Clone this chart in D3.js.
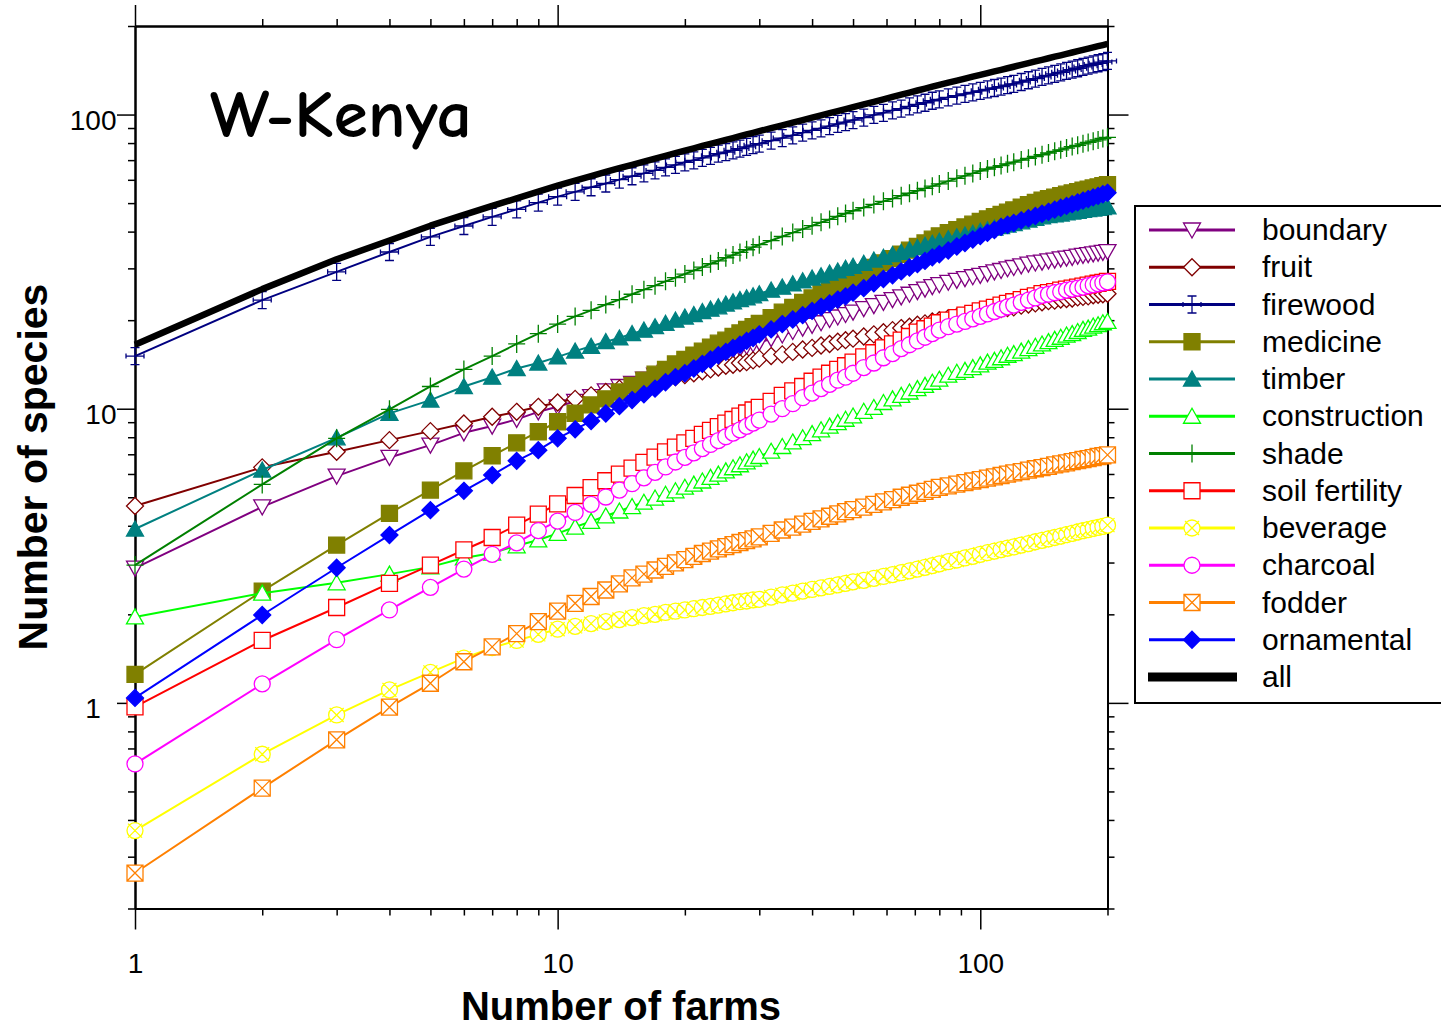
<!DOCTYPE html>
<html>
<head>
<meta charset="utf-8">
<script src="https://cdn.jsdelivr.net/npm/d3@7"></script>
<style>
  body { margin: 0; background: #fff; }
  svg { display: block; }
</style>
</head>
<body>
<svg id="chart" width="1441" height="1030"></svg>
<script>
// Species accumulation with number of farms sampled (W-Kenya), per use category.
const farms = [1,2,3,4,5,6,7,8,9,10,11,12,13,14,15,16,17,18,19,20,21,22,23,24,25,26,27,28,29,30,
  32,34,36,38,40,42,44,46,48,50,53,56,59,62,65,68,71,74,77,80,
  84,88,92,96,100,104,108,112,116,120,125,130,135,140,145,150,155,160,165,170,175,180,185,190,195,200];

const boundary = [2.87,4.64,5.90,6.83,7.52,8.28,8.73,9.20,9.76,10.15,
  10.6,11.0,11.5,11.9,12.2,12.6,13.0,13.3,13.6,14.0,
  14.3,14.6,14.9,15.2,15.5,15.8,16.0,16.3,16.6,16.8,
  17.3,17.8,18.3,18.8,19.2,19.6,20.1,20.5,20.9,21.3,
  21.9,22.4,23.0,23.5,24.0,24.5,25.0,25.5,26.0,26.4,
  26.9,27.3,27.7,28.1,28.4,28.8,29.2,29.5,29.9,30.2,
  30.6,31.0,31.3,31.5,31.8,32.0,32.3,32.5,32.7,33.0,33.2,33.4,33.6,33.8,34.0,34.2];

const fruit = [4.67,6.32,7.14,7.82,8.39,8.91,9.39,9.76,10.15,10.5,
  10.8,11.1,11.4,11.7,11.9,12.1,12.4,12.6,12.8,13.0,
  13.2,13.4,13.6,13.8,14.0,14.1,14.3,14.4,14.6,14.8,
  15.1,15.3,15.6,15.9,16.1,16.4,16.6,16.9,17.1,17.3,
  17.6,17.9,18.2,18.5,18.8,19.0,19.3,19.5,19.8,20.0,
  20.3,20.5,20.7,20.9,21.2,21.4,21.6,21.8,22.0,22.1,
  22.4,22.6,22.8,23.0,23.2,23.3,23.5,23.6,23.7,23.9,24.0,24.1,24.3,24.4,24.5,24.6];

const firewood = [15.1,23.4,29.2,34.1,38.4,41.8,44.9,47.6,50.2,52.6,
  54.6,56.6,58.3,60.1,61.7,63.1,64.6,66.1,67.4,68.8,
  69.9,71.2,72.4,73.6,74.5,75.6,76.6,77.7,78.7,79.7,
  81.5,83.2,85.0,86.8,88.4,89.8,91.4,92.9,94.3,95.8,
  97.6,99.7,101.4,103.3,104.8,106.6,108.3,109.7,111.4,112.7,
  114.4,116.0,117.5,119.0,120.4,121.8,123.1,124.5,126.0,127.2,
  129.0,130.8,132.5,134.2,135.9,137.6,139.2,140.7,142.2,143.7,145.2,146.6,148.0,149.4,150.8,152.2];

const medicine = [1.25,2.40,3.44,4.41,5.29,6.15,6.92,7.66,8.35,9.03,
  9.65,10.3,10.8,11.4,12.0,12.5,13.1,13.6,14.2,14.7,
  15.2,15.7,16.2,16.7,17.1,17.6,18.1,18.6,19.0,19.5,
  20.4,21.3,22.1,23.0,23.8,24.7,25.5,26.3,27.1,27.9,
  29.0,30.2,31.3,32.4,33.5,34.6,35.6,36.6,37.7,38.7,
  39.7,40.6,41.5,42.4,43.3,44.2,45.0,45.8,46.6,47.4,
  48.4,49.4,50.3,51.2,51.8,52.4,53.0,53.6,54.2,54.7,55.3,55.8,56.3,56.8,57.3,57.8];

const timber = [3.90,6.19,7.96,9.64,10.7,11.9,12.8,13.7,14.3,15.0,
  15.7,16.3,16.9,17.4,18.0,18.5,19.0,19.5,20.0,20.5,
  20.9,21.4,21.8,22.2,22.7,23.1,23.5,23.8,24.2,24.6,
  25.3,25.9,26.6,27.2,27.8,28.3,28.9,29.4,30.0,30.5,
  31.2,32.0,32.7,33.4,34.0,34.7,35.3,35.9,36.5,37.1,
  37.8,38.4,38.9,39.5,40.1,40.6,41.1,41.6,42.1,42.6,
  43.2,43.8,44.4,44.9,45.3,45.6,45.9,46.3,46.6,46.9,47.2,47.5,47.7,48.0,48.3,48.6];

const construction = [1.96,2.36,2.56,2.74,2.90,3.11,3.23,3.42,3.58,3.77,
  3.96,4.14,4.32,4.49,4.65,4.81,4.97,5.12,5.26,5.41,
  5.54,5.68,5.84,5.99,6.15,6.30,6.45,6.60,6.74,6.88,
  7.17,7.44,7.71,7.97,8.23,8.48,8.73,8.97,9.21,9.45,
  9.80,10.1,10.5,10.8,11.1,11.4,11.7,12.0,12.3,12.6,
  13.0,13.3,13.5,13.8,14.1,14.4,14.6,14.9,15.2,15.4,
  15.7,16.0,16.3,16.6,16.9,17.2,17.5,17.8,18.0,18.3,18.6,18.8,19.1,19.3,19.6,19.8];

const shade = [2.94,5.53,7.93,9.95,11.9,13.6,15.1,16.6,18.0,19.4,
  20.6,21.6,22.6,23.5,24.5,25.4,26.2,27.1,27.9,28.7,
  29.5,30.3,31.1,31.8,32.6,33.3,34.0,34.7,35.4,36.1,
  37.3,38.5,39.7,40.8,41.9,43.0,44.0,45.1,46.1,47.1,
  48.3,49.5,50.7,51.8,53.0,54.0,55.1,56.1,57.1,58.1,
  59.4,60.7,61.9,63.1,64.3,65.3,66.2,67.1,68.0,68.9,
  70.0,71.0,72.0,73.0,74.0,75.0,75.9,76.9,77.8,78.6,79.5,80.4,81.2,82.0,82.9,83.7];

const soilFertility = [0.97,1.63,2.11,2.55,2.94,3.31,3.65,4.02,4.38,4.75,
  5.07,5.39,5.69,5.99,6.28,6.57,6.85,7.13,7.40,7.66,
  7.93,8.18,8.44,8.69,8.94,9.19,9.43,9.67,9.90,10.1,
  10.6,11.1,11.5,11.9,12.4,12.8,13.2,13.6,14.0,14.4,
  15.0,15.5,16.1,16.6,17.1,17.6,18.2,18.7,19.1,19.6,
  20.0,20.4,20.8,21.1,21.5,21.8,22.1,22.5,22.8,23.1,
  23.5,23.9,24.2,24.6,24.8,25.0,25.3,25.5,25.7,25.9,26.1,26.3,26.5,26.7,26.9,27.1];

const beverage = [0.368,0.669,0.91,1.107,1.27,1.42,1.54,1.63,1.71,1.78,
  1.82,1.86,1.89,1.92,1.95,1.98,2.00,2.03,2.05,2.07,
  2.09,2.11,2.13,2.15,2.17,2.19,2.21,2.22,2.24,2.25,
  2.29,2.33,2.36,2.40,2.43,2.46,2.49,2.52,2.55,2.58,
  2.61,2.65,2.69,2.73,2.77,2.81,2.85,2.89,2.93,2.97,
  3.02,3.06,3.11,3.15,3.20,3.24,3.28,3.32,3.36,3.39,
  3.44,3.48,3.53,3.57,3.61,3.65,3.69,3.73,3.77,3.81,3.85,3.88,3.92,3.95,3.98,4.02];

const charcoal = [0.62,1.16,1.64,2.07,2.47,2.85,3.20,3.50,3.85,4.15,
  4.44,4.73,5.01,5.29,5.56,5.82,6.08,6.34,6.59,6.83,
  7.08,7.32,7.56,7.79,8.03,8.26,8.48,8.71,8.93,9.15,
  9.59,10.0,10.4,10.9,11.3,11.7,12.1,12.5,12.8,13.2,
  13.8,14.3,14.9,15.4,16.0,16.5,17.0,17.5,18.0,18.5,
  19.0,19.4,19.8,20.2,20.6,21.0,21.4,21.8,22.2,22.5,
  23.0,23.4,23.8,24.3,24.5,24.8,25.0,25.3,25.5,25.7,25.9,26.2,26.4,26.6,26.8,27.0];

const fodder = [0.264,0.513,0.749,0.967,1.166,1.38,1.55,1.72,1.89,2.05,
  2.18,2.30,2.42,2.54,2.66,2.74,2.83,2.91,2.99,3.07,
  3.15,3.22,3.28,3.34,3.40,3.45,3.51,3.56,3.61,3.67,
  3.77,3.87,3.96,4.05,4.14,4.22,4.31,4.39,4.47,4.54,
  4.63,4.73,4.82,4.91,5.00,5.08,5.16,5.24,5.32,5.40,
  5.47,5.54,5.61,5.68,5.74,5.81,5.87,5.93,5.99,6.05,
  6.11,6.18,6.25,6.31,6.37,6.44,6.49,6.55,6.61,6.66,6.72,6.77,6.82,6.88,6.92,6.97];

const ornamental = [1.04,1.99,2.88,3.72,4.52,5.26,5.95,6.65,7.23,7.93,
  8.51,9.08,9.63,10.2,10.7,11.2,11.7,12.3,12.8,13.2,
  13.7,14.2,14.7,15.2,15.6,16.1,16.5,17.0,17.4,17.9,
  18.6,19.4,20.1,20.8,21.5,22.2,22.8,23.5,24.1,24.8,
  25.7,26.7,27.6,28.4,29.3,30.2,31.0,31.8,32.7,33.5,
  34.5,35.6,36.6,37.6,38.6,39.6,40.5,41.5,42.2,42.8,
  43.7,44.4,45.2,46.0,46.7,47.5,48.2,48.9,49.6,50.3,51.0,51.6,52.3,52.9,53.6,54.2];

const allSpecies = [16.5,25.5,32.2,37.3,41.9,45.6,48.9,51.9,54.7,57.3,
  59.6,61.8,63.8,65.7,67.5,69.2,70.8,72.4,73.9,75.4,
  76.8,78.2,79.5,80.8,82.0,83.2,84.4,85.6,86.7,87.8,
  89.9,91.9,93.9,95.7,97.6,99.4,101.1,102.8,104.4,106.0,
  108.3,110.5,112.7,114.8,116.8,118.8,120.7,122.5,124.4,126.2,
  128.4,130.4,132.5,134.5,136.4,138.4,140.2,141.9,143.7,145.4,
  147.5,149.5,151.6,153.5,155.4,157.3,159.0,160.8,162.5,164.3,166.0,167.6,169.2,170.8,172.3,173.9];

const seriesNames = ["boundary","fruit","firewood","medicine","timber","construction","shade",
  "soil fertility","beverage","charcoal","fodder","ornamental","all"];
const seriesValues = [boundary,fruit,firewood,medicine,timber,construction,shade,
  soilFertility,beverage,charcoal,fodder,ornamental,allSpecies];
const seriesColors = ["#800080","#800000","#000080","#808000","#008080","#00ff00","#008000",
  "#ff0000","#ffff00","#ff00ff","#ff8000","#0000ff","#000000"];
const seriesMarkers = ["triangleDown","diamond","errorCross","square","triangleUp","triangleUp","plus",
  "square","circleX","circle","squareX","diamond",null];
const seriesFilled = [false,false,false,true,true,false,false,false,false,false,false,true,false];

const majorTicks = [1, 10, 100];
const titleText = "W-Kenya";
const xTitle = "Number of farms";
const yTitle = "Number of species";

// ---- drawing ----
const svg = d3.select("#chart");
const x = d3.scaleLog().domain([1, 200]).range([135, 1107.5]);
const y = d3.scaleLog().domain([0.2, 200]).range([908.5, 26]);

const FONT = "'Liberation Sans', Arial, Helvetica, sans-serif";

const markerShapes = {
  square: "M-8,-8H8V8H-8Z",
  diamond: "M0,-8.5L8.5,0L0,8.5L-8.5,0Z",
  triangleUp: "M0,-8L8.5,7H-8.5Z",
  triangleDown: "M-8.5,-7H8.5L0,8Z",
  circle: "M8,0A8,8 0 1,1 -8,0A8,8 0 1,1 8,0Z",
  circleX: "M8,0A8,8 0 1,1 -8,0A8,8 0 1,1 8,0Z M-7,-7L7,7M-7,7L7,-7",
  squareX: "M-8,-8H8V8H-8Z M-8,-8L8,8M-8,8L8,-8",
  plus: "M0,-9V9M-8.5,0H8.5",
  errorCross: "M0,-8.5V8.5M-4.5,-8.5H4.5M-4.5,8.5H4.5M-9,0H9M-9,-2.5V2.5M9,-2.5V2.5"
};
const noFill = new Set(["plus", "errorCross"]);

function markerFill(i) {
  const m = seriesMarkers[i];
  if (noFill.has(m)) return "none";
  return seriesFilled[i] ? seriesColors[i] : "#ffffff";
}

// axes: minor and major ticks on all four sides
const minorX = x.ticks().filter(v => !majorTicks.includes(v));
const minorY = y.ticks().filter(v => !majorTicks.includes(v));

function styleAxis(g, width) {
  g.selectAll("path.domain").attr("stroke", "#000").attr("stroke-width", 2);
  g.selectAll(".tick line").attr("stroke", "#000").attr("stroke-width", width || 1.5);
}

const axes = svg.append("g").attr("class", "axes");

// bottom
axes.append("g").attr("transform", "translate(0,908.5)")
  .call(d3.axisBottom(x).tickValues(minorX).tickSize(7).tickSizeOuter(0).tickFormat(""))
  .call(g => styleAxis(g));
const xMajor = axes.append("g").attr("transform", "translate(0,908.5)")
  .call(d3.axisBottom(x).tickValues(majorTicks).tickSize(21).tickSizeOuter(0).tickFormat(d3.format("d")))
  .call(g => styleAxis(g));
xMajor.selectAll("text")
  .attr("y", 64.5).attr("dy", null)
  .attr("fill", "#000")
  .style("font-family", FONT).style("font-size", "28px");

// top
axes.append("g").attr("transform", "translate(0,26)")
  .call(d3.axisTop(x).tickValues(minorX).tickSize(7).tickSizeOuter(0).tickFormat(""))
  .call(g => styleAxis(g));
axes.append("g").attr("transform", "translate(0,26)")
  .call(d3.axisTop(x).tickValues(majorTicks).tickSize(21).tickSizeOuter(0).tickFormat(""))
  .call(g => styleAxis(g));

// left
axes.append("g").attr("transform", "translate(135,0)")
  .call(d3.axisLeft(y).tickValues(minorY).tickSize(7).tickSizeOuter(0).tickFormat(""))
  .call(g => styleAxis(g));
const yMajor = axes.append("g").attr("transform", "translate(135,0)")
  .call(d3.axisLeft(y).tickValues(majorTicks).tickSize(18).tickSizeOuter(0)
    .tickFormat(d => d < 10 ? d + "\u2007" : String(d)))
  .call(g => styleAxis(g));
yMajor.selectAll("text")
  .attr("x", -18.5).attr("y", 14.5).attr("dy", null)
  .attr("fill", "#000")
  .style("font-family", FONT).style("font-size", "28px");

// right
axes.append("g").attr("transform", "translate(1107.5,0)")
  .call(d3.axisRight(y).tickValues(minorY).tickSize(7).tickSizeOuter(0).tickFormat(""))
  .call(g => styleAxis(g));
axes.append("g").attr("transform", "translate(1107.5,0)")
  .call(d3.axisRight(y).tickValues(majorTicks).tickSize(21).tickSizeOuter(0).tickFormat(""))
  .call(g => styleAxis(g));

// axis titles
svg.append("text")
  .attr("x", 621).attr("y", 1020)
  .attr("text-anchor", "middle")
  .style("font-family", FONT).style("font-weight", "bold").style("font-size", "40px")
  .text(xTitle);
svg.append("text")
  .attr("transform", "translate(47,467) rotate(-90)")
  .attr("text-anchor", "middle")
  .style("font-family", FONT).style("font-weight", "bold").style("font-size", "41px")
  .text(yTitle);

// region title
svg.append("text")
  .attr("x", 210).attr("y", 137)
  .attr("textLength", 262).attr("lengthAdjust", "spacingAndGlyphs")
  .style("font-family", "'Comic Sans MS', 'Comic Neue', 'DejaVu Sans', sans-serif")
  .style("font-weight", "bold")
  .style("font-size", "67px")
  .text(titleText);

// series
const line = d3.line().x(d => x(d[0])).y(d => y(d[1]));
const plot = svg.append("g").attr("class", "series");

seriesNames.forEach((name, i) => {
  const pts = farms.map((f, k) => [f, seriesValues[i][k]]);
  const g = plot.append("g").attr("class", "s" + i);
  g.append("path")
    .datum(pts)
    .attr("d", line)
    .attr("fill", "none")
    .attr("stroke", seriesColors[i])
    .attr("stroke-width", seriesMarkers[i] ? 2 : 6.5)
    .attr("stroke-linejoin", "round");
  if (seriesMarkers[i]) {
    g.selectAll("path.mk")
      .data(pts)
      .join("path")
      .attr("class", "mk")
      .attr("transform", d => `translate(${x(d[0])},${y(d[1])})`)
      .attr("d", markerShapes[seriesMarkers[i]])
      .attr("fill", markerFill(i))
      .attr("stroke", seriesColors[i])
      .attr("stroke-width", 1.3);
  }
});

// legend
const legend = svg.append("g").attr("class", "legend");
legend.append("rect")
  .attr("x", 1135).attr("y", 206).attr("width", 330).attr("height", 497)
  .attr("fill", "#fff").attr("stroke", "#000").attr("stroke-width", 2);

seriesNames.forEach((name, i) => {
  const cy = 230 + i * 37.25;
  const isAll = !seriesMarkers[i];
  legend.append("line")
    .attr("x1", isAll ? 1148 : 1149).attr("x2", isAll ? 1237 : 1235)
    .attr("y1", cy).attr("y2", cy)
    .attr("stroke", seriesColors[i])
    .attr("stroke-width", isAll ? 9 : 3);
  if (!isAll) {
    legend.append("path")
      .attr("transform", `translate(1192,${cy})`)
      .attr("d", markerShapes[seriesMarkers[i]])
      .attr("fill", markerFill(i))
      .attr("stroke", seriesColors[i])
      .attr("stroke-width", 1.3);
  }
  legend.append("text")
    .attr("x", 1262).attr("y", cy + 10)
    .style("font-family", FONT).style("font-size", "30px")
    .text(name);
});
</script>
</body>
</html>
